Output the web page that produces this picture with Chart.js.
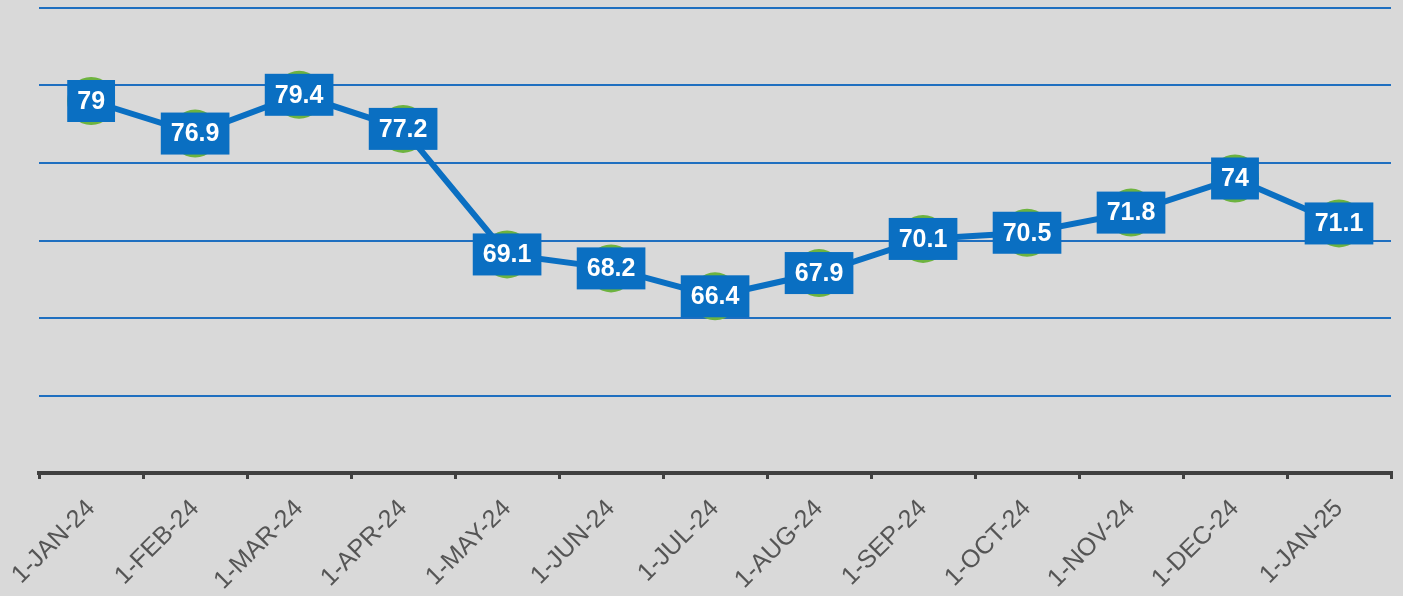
<!DOCTYPE html>
<html><head><meta charset="utf-8">
<script src="https://cdn.jsdelivr.net/npm/chart.js@4/dist/chart.umd.min.js"></script>
<style>
html,body{margin:0;padding:0;background:#d9d9d9;}
#wrap{width:1403px;height:596px;position:relative;}
</style></head>
<body><div id="wrap"><canvas id="c" width="1403" height="596"></canvas></div>
<script>
const categories = ['1-JAN-24','1-FEB-24','1-MAR-24','1-APR-24','1-MAY-24','1-JUN-24','1-JUL-24','1-AUG-24','1-SEP-24','1-OCT-24','1-NOV-24','1-DEC-24','1-JAN-25'];
const values = [79, 76.9, 79.4, 77.2, 69.1, 68.2, 66.4, 67.9, 70.1, 70.5, 71.8, 74, 71.1];
const yMin = 55, yMax = 85, yStep = 5;

const labelBoxes = {
  id: 'labelBoxes',
  afterDatasetsDraw(chart) {
    const ctx = chart.ctx;
    const meta = chart.getDatasetMeta(0);
    ctx.save();
    ctx.font = 'bold 25px "Liberation Sans", Arial, sans-serif';
    ctx.textAlign = 'center';
    ctx.textBaseline = 'middle';
    meta.data.forEach((pt, i) => {
      const txt = String(values[i]);
      const w = ctx.measureText(txt).width + 20;
      const h = 42;
      ctx.fillStyle = '#0a6fc2';
      ctx.fillRect(pt.x - w/2, pt.y - h/2, w, h);
      ctx.fillStyle = '#ffffff';
      ctx.fillText(txt, pt.x, pt.y + 1);
    });
    ctx.restore();
  }
};

new Chart(document.getElementById('c'), {
  type: 'line',
  data: {
    labels: categories,
    datasets: [{
      data: values,
      borderColor: '#0a6fc2',
      borderWidth: 6,
      pointRadius: 24,
      pointBackgroundColor: '#6db33f',
      pointBorderWidth: 0,
      tension: 0,
      clip: false
    }]
  },
  options: {
    responsive: false,
    animation: false,
    layout: { autoPadding: false, padding: { left: 38, right: 12, top: 8, bottom: 1 } },
    plugins: { legend: { display: false }, tooltip: { enabled: false } },
    scales: {
      x: {
        offset: true,
        afterFit(scale) { scale.height = 122; },
        grid: { display: true, drawOnChartArea: false, drawTicks: true, tickLength: 6, color: '#404040', lineWidth: 3, offset: true },
        border: { display: true, color: '#404040', width: 4 },
        ticks: { maxRotation: 45, minRotation: 45, color: '#555555', font: { family: '"Liberation Sans", Arial, sans-serif', size: 25 }, padding: 15 }
      },
      y: {
        min: yMin, max: yMax,
        ticks: { display: false, stepSize: yStep },
        grid: { color: '#1f6fc0', lineWidth: 2, drawTicks: false },
        border: { display: false }
      }
    }
  },
  plugins: [labelBoxes]
});
</script></body></html>
